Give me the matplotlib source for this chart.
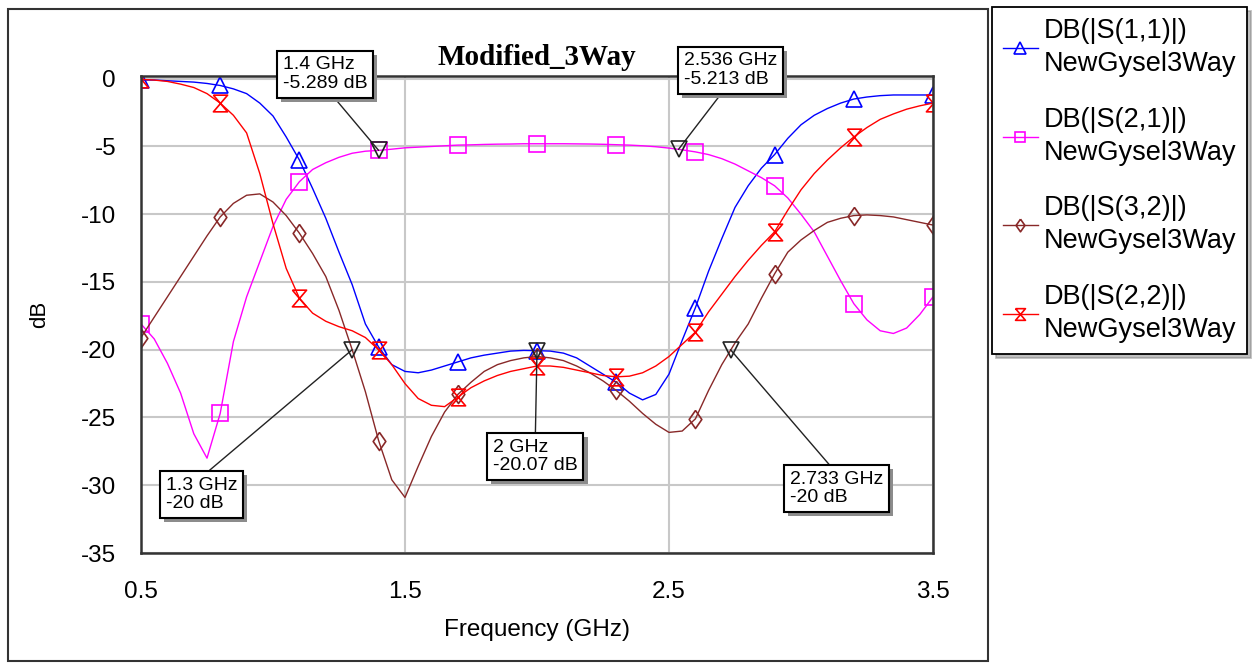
import matplotlib
matplotlib.use('Agg')
import matplotlib.pyplot as plt
import matplotlib.patheffects as pe
from matplotlib.patches import Rectangle
import numpy as np

plt.rcParams['font.family'] = 'Liberation Sans'
plt.rcParams['axes.unicode_minus'] = False

# frequency grid (GHz), one value every 0.05 GHz
freq = np.linspace(0.5, 3.5, 61)

# values (dB)
s11 = [-0.1, -0.1, -0.15, -0.2, -0.25, -0.35, -0.5, -0.75, -1.1, -1.8,
       -2.75, -4.3, -6.0, -8.1, -10.3, -12.8, -15.2, -18.1, -19.8, -21.1,
       -21.6, -21.7, -21.5, -21.2, -20.9, -20.6, -20.4, -20.25, -20.1, -20.05,
       -20.07, -20.1, -20.25, -20.6, -21.2, -21.8, -22.4, -23.2, -23.7, -23.3,
       -21.8, -19.3, -16.9, -14.2, -11.8, -9.5, -7.9, -6.6, -5.6, -4.4,
       -3.4, -2.7, -2.2, -1.8, -1.5, -1.35, -1.25, -1.2, -1.2, -1.2,
       -1.2]
s21 = [-18.1, -19.2, -21.0, -23.2, -26.2, -28.0, -24.7, -19.4, -16.1, -13.5,
       -10.9, -8.9, -7.6, -6.7, -6.2, -5.8, -5.5, -5.35, -5.29, -5.2,
       -5.1, -5.05, -5.0, -4.95, -4.9, -4.88, -4.85, -4.83, -4.82, -4.8,
       -4.8, -4.8, -4.8, -4.81, -4.82, -4.84, -4.87, -4.9, -4.95, -5.02,
       -5.12, -5.25, -5.4, -5.6, -5.9, -6.3, -6.8, -7.3, -7.9, -8.8,
       -10.0, -11.3, -13.1, -14.9, -16.6, -17.8, -18.6, -18.8, -18.4, -17.4,
       -16.1]
s32 = [-19.1, -17.6, -16.1, -14.6, -13.1, -11.6, -10.2, -9.2, -8.6, -8.5,
       -9.1, -10.1, -11.4, -12.9, -14.6, -17.1, -20.0, -23.1, -26.7, -29.6,
       -30.9, -28.6, -26.4, -24.6, -23.3, -22.4, -21.6, -21.1, -20.8, -20.6,
       -20.5, -20.6, -20.8, -21.2, -21.7, -22.3, -23.0, -23.8, -24.7, -25.5,
       -26.1, -26.0, -25.1, -23.0, -21.1, -19.5, -18.1, -16.2, -14.4, -12.8,
       -11.9, -11.2, -10.6, -10.3, -10.1, -10.05, -10.1, -10.2, -10.4, -10.6,
       -10.8]
s22 = [-0.05, -0.1, -0.2, -0.4, -0.65, -1.1, -1.8, -2.7, -4.0, -7.0,
       -10.7, -14.0, -16.2, -17.3, -17.9, -18.3, -18.6, -19.1, -20.0, -21.1,
       -22.5, -23.6, -24.1, -24.2, -23.5, -22.8, -22.3, -21.9, -21.6, -21.4,
       -21.2, -21.2, -21.3, -21.5, -21.7, -21.9, -22.0, -21.95, -21.7, -21.2,
       -20.5, -19.6, -18.7, -17.2, -15.9, -14.6, -13.4, -12.3, -11.3, -9.7,
       -8.2, -7.0, -6.0, -5.1, -4.3, -3.6, -3.0, -2.6, -2.25, -2.0,
       -1.8]

labels = ['DB(|S(1,1)|)\nNewGysel3Way', 'DB(|S(2,1)|)\nNewGysel3Way',
          'DB(|S(3,2)|)\nNewGysel3Way', 'DB(|S(2,2)|)\nNewGysel3Way']

# marker readouts
mk_freq = [1.4, 2.536, 1.3, 2.0, 2.733]
mk_db = [-5.289, -5.213, -20.0, -20.07, -20.0]
mk_text = ['1.4 GHz\n-5.289 dB', '2.536 GHz\n-5.213 dB', '1.3 GHz\n-20 dB',
           '2 GHz\n-20.07 dB', '2.733 GHz\n-20 dB']

# where the readout boxes sit (text anchor) and where the leader leaves the box
box_pos = [(1.037, 1.64), (2.556, 1.94), (0.594, -29.39), (1.833, -26.58), (2.958, -28.95)]
box_rel = [(0.55, 0.0), (0.45, 0.0), (0.5, 1.0), (0.5, 1.0), (0.48, 1.0)]

hourglass = [(-0.85, 1), (0.85, 1), (-0.85, -1), (0.85, -1), (-0.85, 1)]
diamond = [(0, 1), (0.7, 0), (0, -1), (-0.7, 0), (0, 1)]

fig = plt.figure(figsize=(12.59, 6.63), dpi=100)
ax = fig.add_axes([141 / 1259, 1 - 553 / 663, 792 / 1259, 477 / 663])

style = dict(lw=1.0, markevery=6, mfc='none', mew=1.2)
ax.plot(freq, s11, color='#0000ff', marker='^', ms=12, label=labels[0], **style)
ax.plot(freq, s21, color='#ff00ff', marker='s', ms=11, label=labels[1], **style)
ax.plot(freq, s32, color='#882828', marker=diamond, ms=13, label=labels[2], **style)
ax.plot(freq, s22, color='#ff0000', marker=hourglass, ms=12, label=labels[3], **style)

ax.plot(mk_freq, mk_db, 'v', ms=11, mfc='none', mec='#222222', mew=1.2, zorder=5)

for f, d, t, p, r in zip(mk_freq, mk_db, mk_text, box_pos, box_rel):
    a = ax.annotate(t, xy=(f, d), xytext=p, textcoords='data', ha='left', va='top',
                    fontsize=14, linespacing=1.1, annotation_clip=False, zorder=6,
                    bbox=dict(boxstyle='square,pad=0.3', fc='white', ec='black', lw=1.5),
                    arrowprops=dict(arrowstyle='-', color='#222222', lw=1.0,
                                    shrinkA=0, shrinkB=0, relpos=r))
    a.get_bbox_patch().set_path_effects([
        pe.SimplePatchShadow(offset=(3, -3), shadow_rgbFace='0.55', alpha=1.0),
        pe.Normal()])

ax.set_xlim(0.5, 3.5)
ax.set_ylim(-35, 0.2)
ax.set_xticks([0.5, 1.5, 2.5, 3.5])
ax.set_xticklabels(['0.5', '1.5', '2.5', '3.5'])
ax.set_yticks(np.arange(-35, 1, 5))
ax.tick_params(length=0, labelsize=17.5)
ax.tick_params(axis='x', pad=20)
ax.tick_params(axis='y', pad=18)
ax.grid(True, color='#c8c8c8', lw=1.5)
ax.set_axisbelow(True)
for sp in ax.spines.values():
    sp.set_color('#333333')
    sp.set_linewidth(1.8)

ax.set_xlabel('Frequency (GHz)', fontsize=17.5, labelpad=12)
ax.set_ylabel('dB', fontsize=16, labelpad=22)
ax.set_title('Modified_3Way', fontsize=21, fontweight='bold',
             family='Liberation Serif', pad=8)

fig.add_artist(Rectangle((8 / 1259, 2 / 663), 980 / 1259, 652 / 663,
                         transform=fig.transFigure, fill=False, ec='#333333', lw=1.5))

leg = fig.legend(loc='upper left', bbox_to_anchor=(992 / 1259, 1 - 7 / 663),
                 fontsize=19.5, frameon=True, fancybox=False, framealpha=1,
                 edgecolor='black', markerscale=0.7, handlelength=1.3,
                 handletextpad=0.2, borderpad=0.4, labelspacing=1.1,
                 borderaxespad=0, shadow={'ox': 3, 'oy': -3, 'shade': 0.5})
leg.get_frame().set_linewidth(1.3)
for txt in leg.get_texts():
    txt.set_linespacing(1.35)

fig.savefig('out.png', dpi=100)
